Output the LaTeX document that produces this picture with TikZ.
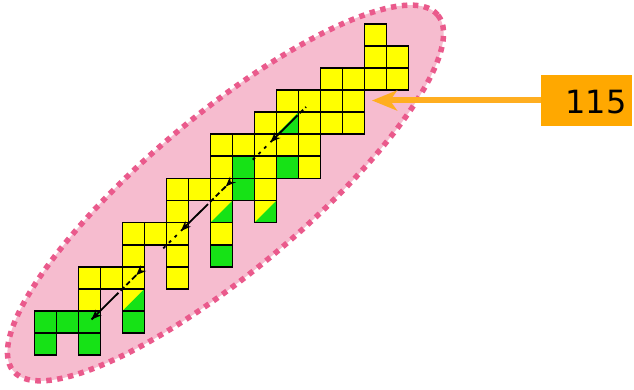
\documentclass[tikz,border=0pt]{standalone}
\usepackage{fontspec}
\newfontfamily\numfont{DejaVu Sans}
\usetikzlibrary{arrows.meta,decorations.markings}
\definecolor{cellyellow}{RGB}{255,255,0}
\definecolor{cellgreen}{RGB}{22,226,22}
\definecolor{ellfill}{RGB}{246,188,207}
\definecolor{elldot}{RGB}{234,90,140}
\definecolor{boxorange}{RGB}{255,168,0}
\definecolor{arroworange}{RGB}{255,174,32}
\begin{document}
\begin{tikzpicture}[x=1pt,y=1pt,
  cellline/.style={draw=black,line width=1.8pt},
  halfcell/.style={fill=cellgreen},
  zone/.style={fill=ellfill,draw=elldot,line width=5.5pt,dash pattern=on 5.5pt off 5.5pt},
  pathline/.style={line width=1.8pt,dash pattern=on 38pt off 3pt on 5pt off 3pt on 5pt off 3pt on 6pt,
    postaction={decorate},
    decoration={markings,mark=between positions 0pt and 260pt step 63pt with {\arrowreversed{Stealth[length=10pt,width=8pt]}}}},
  numboxstyle/.style={fill=boxorange,minimum width=91pt,minimum height=51pt,inner sep=0pt},
  pointer/.style={draw=arroworange,line width=6pt,-{Stealth[length=25pt,width=20pt,inset=7pt]}}]
\useasboundingbox (0,0) rectangle (634,390);
\fill[white] (0,0) rectangle (634,390);
% ellipse
\path[zone,rotate around={40:(225.5,197)}] (225.5,197) ellipse [x radius=277pt, y radius=78pt];
% cells
\begin{scope}[shift={(34.5,35)},x=22pt,y=22.07pt]
  \foreach \c/\r in {2/2,2/3,3/3,4/2,4/3,4/4,4/5,5/5,6/3,6/4,6/5,6/6,6/7,7/7,8/5,8/6,8/7,8/8,8/9,9/9,10/6,10/7,10/8,10/9,10/10,11/9,11/10,11/11,12/8,12/9,12/10,12/11,13/10,13/11,13/12,14/10,14/11,14/12,15/12,15/13,15/14,16/12,16/13}
    \fill[cellyellow] (\c,\r) rectangle ++(1,1);
  \foreach \c/\r in {0/0,0/1,1/1,2/0,2/1,4/1,8/4,9/7,9/8,11/8}
    \fill[cellgreen] (\c,\r) rectangle ++(1,1);
  \foreach \c/\r in {4/2,8/6,10/6,11/10}
    \fill[halfcell] (\c,\r) -- ++(1,0) -- ++(0,1) -- cycle;
  \foreach \c/\r in {0/0,0/1,1/1,2/0,2/1,4/1,8/4,9/7,9/8,11/8,2/2,2/3,3/3,4/2,4/3,4/4,4/5,5/5,6/3,6/4,6/5,6/6,6/7,7/7,8/5,8/6,8/7,8/8,8/9,9/9,10/6,10/7,10/8,10/9,10/10,11/9,11/10,11/11,12/8,12/9,12/10,12/11,13/10,13/11,13/12,14/10,14/11,14/12,15/12,15/13,15/14,16/12,16/13}
    \draw[cellline] (\c,\r) rectangle ++(1,1);
\end{scope}
% black path
\coordinate (lineS) at (91.5,70.5);
\coordinate (lineE) at (306,283);
\draw[pathline] (lineS) -- (lineE);
% label and pointer
\node[numboxstyle] (numbox) at (586.5,289.5) {};
\node[font=\numfont\fontsize{32}{36}\selectfont,inner sep=0pt] (numtext) at (596,287.5) {115};
\coordinate (tipA) at (372,289.5);
\draw[pointer] (numbox.west) -- (tipA);
\end{tikzpicture}
\end{document}
